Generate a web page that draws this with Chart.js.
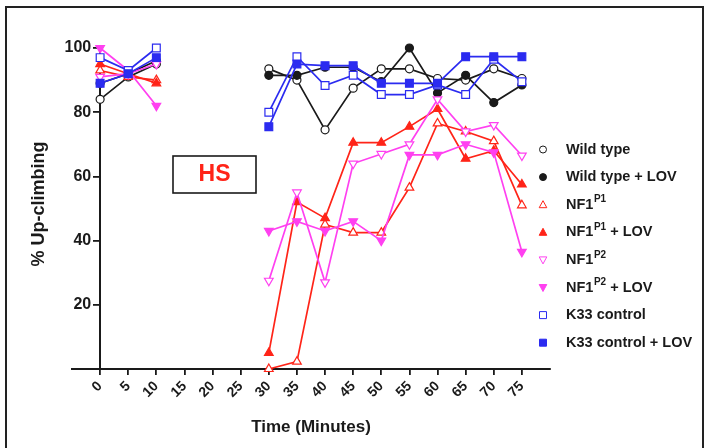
<!DOCTYPE html>
<html><head><meta charset="utf-8">
<script src="https://cdn.jsdelivr.net/npm/chart.js@4.4.1/dist/chart.umd.min.js"></script>
<style>
html,body{margin:0;padding:0;background:#fff;}
#wrap{position:relative;width:707px;height:448px;overflow:hidden;}
#frame{position:absolute;left:5px;top:6px;width:699px;height:470px;border:2px solid #222;box-sizing:border-box;pointer-events:none;}
canvas{position:absolute;left:0;top:0;}
</style></head><body>
<div id="wrap"><canvas id="c" width="707" height="448"></canvas><div id="frame"></div></div>
<script>
// ---- data ----
const times = [0,5,10,15,20,25,30,35,40,45,50,55,60,65,70,75];
const xTickLabels = ['0','5','10','15','20','25','30','35','40','45','50','55','60','65','70','75'];
const yTickLabels = ['20','40','60','80','100'];
const seriesLabels = ['Wild type','Wild type + LOV','NF1^P1','NF1^P1 + LOV','NF1^P2','NF1^P2 + LOV','K33 control','K33 control + LOV'];
const wildType    = [84, 91, 95, null, null, null, 93.5, 90, 74.5, 87.5, 93.5, 93.5, 90.5, 90, 93.5, 90.5];
const wildTypeLov = [89, 92, 96, null, null, null, 91.5, 91.5, 94, 94, 89.5, 100, 86, 91.5, 83, 88.5];
const nf1p1       = [93, 91, 90, null, null, null, 0, 2.3, 45, 42.5, 42.5, 56.5, 76.5, 74, 71, 51];
const nf1p1Lov    = [95, 92, 89, null, null, null, 5, 52, 47, 70.5, 70.5, 75.5, 81, 65.5, 68, 57.5];
const nf1p2       = [91, 92, 95, null, null, null, 27.5, 55, 27, 64, 67, 70, 84, 74, 76, 66.5];
const nf1p2Lov    = [100, 93, 82, null, null, null, 43, 46, 43, 46, 40, 66.7, 66.7, 70, 67.5, 36.5];
const k33         = [97, 93, 100, null, null, null, 80, 97.3, 88.3, 91.5, 85.5, 85.5, 88.5, 85.5, 96.5, 89.5];
const k33Lov      = [89, 92, 97, null, null, null, 75.5, 95, 94.5, 94.5, 89, 89, 89, 97.3, 97.3, 97.3];
const xTitle = 'Time (Minutes)';
const yTitle = '% Up-climbing';
const boxText = 'HS';

// ---- styles ----
const FONT = '"Liberation Sans", Arial, Helvetica, sans-serif';
const BLACK = '#1a1a1a', RED = '#ff2418', MAG = '#ff40f0', BLUE = '#2b2bf0';
const styles = [
  {c: BLACK, s: 'circle', f: false, r: 4},
  {c: BLACK, s: 'circle', f: true, r: 4},
  {c: RED, s: 'triangle', f: false, r: 5, rot: 0},
  {c: RED, s: 'triangle', f: true, r: 5, rot: 0},
  {c: MAG, s: 'triangle', f: false, r: 5, rot: 180},
  {c: MAG, s: 'triangle', f: true, r: 5, rot: 180},
  {c: BLUE, s: 'rect', f: false, r: 5.5},
  {c: BLUE, s: 'rect', f: true, r: 5.5}
];
const allSeries = [wildType, wildTypeLov, nf1p1, nf1p1Lov, nf1p2, nf1p2Lov, k33, k33Lov];

const datasets = allSeries.map((arr, i) => {
  const st = styles[i];
  return {
    label: seriesLabels[i].replace('^', ''),
    data: times.map((t, j) => ({x: t, y: arr[j]})),
    borderColor: st.c,
    backgroundColor: st.c,
    borderWidth: 1.7,
    pointStyle: st.s,
    pointRadius: st.r,
    pointHoverRadius: st.r,
    pointRotation: st.rot || 0,
    pointBorderWidth: 1.2,
    pointBorderColor: st.c,
    pointBackgroundColor: st.f ? st.c : '#ffffff',
    tension: 0,
    spanGaps: false,
    clip: false,
    order: 7 - i
  };
});

function drawMarker(ctx, st, x, y, r) {
  ctx.beginPath();
  if (st.s === 'circle') ctx.arc(x, y, r, 0, Math.PI * 2);
  else if (st.s === 'rect') ctx.rect(x - r, y - r, 2 * r, 2 * r);
  else if (st.rot === 180) { ctx.moveTo(x, y + r); ctx.lineTo(x + r * 0.95, y - r * 0.75); ctx.lineTo(x - r * 0.95, y - r * 0.75); ctx.closePath(); }
  else { ctx.moveTo(x, y - r); ctx.lineTo(x + r * 0.95, y + r * 0.75); ctx.lineTo(x - r * 0.95, y + r * 0.75); ctx.closePath(); }
  ctx.fillStyle = st.f ? st.c : '#fff';
  ctx.fill();
  ctx.lineWidth = 1;
  ctx.strokeStyle = st.c;
  ctx.stroke();
}

const overlay = {
  id: 'overlay',
  afterDraw(chart) {
    const ctx = chart.ctx;
    // y title
    ctx.save();
    ctx.translate(39, 204);
    ctx.rotate(-Math.PI / 2);
    ctx.font = 'bold 18px ' + FONT;
    ctx.fillStyle = BLACK;
    ctx.textAlign = 'center';
    ctx.textBaseline = 'middle';
    ctx.fillText(yTitle, 0, 0);
    ctx.restore();
    // HS box
    ctx.save();
    ctx.strokeStyle = BLACK;
    ctx.lineWidth = 1.6;
    ctx.strokeRect(173, 156, 83, 37);
    ctx.font = 'bold 23px ' + FONT;
    ctx.fillStyle = RED;
    ctx.textAlign = 'center';
    ctx.textBaseline = 'middle';
    ctx.fillText(boxText, 214.5, 175);
    ctx.restore();
    // legend
    ctx.save();
    const y0 = 149.5, dy = 27.6, mx = 543, tx = 566;
    seriesLabels.forEach((lab, i) => {
      const y = y0 + i * dy;
      const st = styles[i];
      drawMarker(ctx, st, mx, y, st.s === 'rect' ? 3.5 : (st.s === 'circle' ? 3.5 : 4));
      ctx.fillStyle = BLACK;
      ctx.textBaseline = 'middle';
      ctx.textAlign = 'left';
      let x = tx;
      const k = lab.indexOf('^');
      ctx.font = 'bold 14.5px ' + FONT;
      if (k < 0) { ctx.fillText(lab, x, y); return; }
      const pre = lab.slice(0, k);
      let rest = lab.slice(k + 1);
      let sp = rest.indexOf(' ');
      const sup = sp < 0 ? rest : rest.slice(0, sp);
      const post = sp < 0 ? '' : rest.slice(sp);
      ctx.fillText(pre, x, y); x += ctx.measureText(pre).width + 0.5;
      ctx.font = 'bold 10px ' + FONT;
      ctx.fillText(sup, x, y - 5); x += ctx.measureText(sup).width;
      ctx.font = 'bold 14.5px ' + FONT;
      ctx.fillText(post, x, y);
    });
    ctx.restore();
  }
};

new Chart(document.getElementById('c'), {
  type: 'line',
  data: {datasets},
  options: {
    responsive: false,
    animation: false,
    devicePixelRatio: 1,
    layout: {padding: {left: 72, right: 157, top: 48, bottom: 0}},
    plugins: {legend: {display: false}, tooltip: {enabled: false}, title: {display: false}},
    scales: {
      x: {
        type: 'linear', min: -5, max: 80, position: 'bottom',
        afterFit(s) { s.height = 79; },
        ticks: {
          stepSize: 5, autoSkip: false, minRotation: 45, maxRotation: 45, padding: 3,
          color: BLACK, font: {family: FONT, weight: 'bold', size: 14},
          callback: v => { const i = times.indexOf(v); return i >= 0 ? xTickLabels[i] : ''; }
        },
        grid: {
          drawOnChartArea: false, drawTicks: true, tickLength: 6, lineWidth: 1.8,
          color: c => (c.tick && (c.tick.value < 0 || c.tick.value > 75)) ? 'rgba(0,0,0,0)' : BLACK
        },
        border: {display: true, color: BLACK, width: 2},
        title: {display: true, text: xTitle, color: BLACK, font: {family: FONT, weight: 'bold', size: 17}, padding: {top: 0, bottom: 10}}
      },
      y: {
        type: 'linear', min: 0, max: 100, position: {x: 0},
        ticks: {
          stepSize: 20, padding: 2, color: BLACK, font: {family: FONT, weight: 'bold', size: 16},
          // trailing no-break spaces keep the right-aligned label clear of the tick mark
          callback: v => yTickLabels.includes(String(v)) ? String(v) + '\u00A0\u00A0' : ''
        },
        grid: {drawOnChartArea: false, drawTicks: true, tickLength: 6, lineWidth: 1.8, color: BLACK},
        border: {display: true, color: BLACK, width: 2}
      }
    }
  },
  plugins: [overlay]
});
</script>
</body></html>
